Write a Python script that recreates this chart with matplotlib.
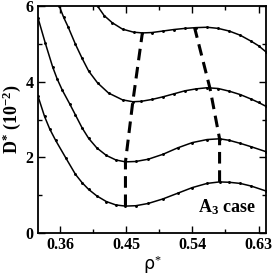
import matplotlib
matplotlib.use('Agg')
import matplotlib.pyplot as plt
from matplotlib.ticker import MultipleLocator

plt.rcParams['mathtext.fontset'] = 'custom'
plt.rcParams['mathtext.rm'] = 'Liberation Serif'
plt.rcParams['mathtext.it'] = 'Liberation Serif:italic'
plt.rcParams['mathtext.bf'] = 'Liberation Serif:bold'

# curves (rho*, D* in 1e-2)
x1 = [0.411, 0.42, 0.431, 0.445, 0.46, 0.472, 0.485, 0.50, 0.515, 0.53, 0.545, 0.56, 0.575, 0.59, 0.605, 0.62, 0.63, 0.64]
y1 = [6.00, 5.75, 5.56, 5.39, 5.31, 5.29, 5.30, 5.34, 5.38, 5.41, 5.43, 5.44, 5.41, 5.34, 5.23, 5.07, 4.95, 4.79]

x2 = [0.359, 0.365, 0.371, 0.381, 0.39, 0.399, 0.411, 0.426, 0.445, 0.459, 0.47, 0.485, 0.50, 0.515, 0.53, 0.545, 0.56, 0.575, 0.59, 0.605, 0.62, 0.63, 0.64]
y2 = [6.00, 5.70, 5.45, 4.99, 4.62, 4.28, 3.97, 3.70, 3.52, 3.47, 3.48, 3.53, 3.60, 3.68, 3.76, 3.81, 3.84, 3.82, 3.75, 3.66, 3.54, 3.45, 3.35]

x3 = [0.33, 0.34, 0.35, 0.356, 0.363, 0.373, 0.381, 0.39, 0.399, 0.41, 0.423, 0.436, 0.449, 0.463, 0.48, 0.50, 0.52, 0.54, 0.56, 0.577, 0.59, 0.605, 0.62, 0.64]
y3 = [5.69, 5.02, 4.39, 4.08, 3.78, 3.42, 3.12, 2.78, 2.50, 2.25, 2.05, 1.93, 1.88, 1.89, 1.95, 2.08, 2.25, 2.39, 2.47, 2.49, 2.45, 2.37, 2.28, 2.15]

x4 = [0.33, 0.339, 0.346, 0.354, 0.368, 0.381, 0.39, 0.399, 0.41, 0.423, 0.436, 0.449, 0.463, 0.48, 0.50, 0.52, 0.54, 0.56, 0.577, 0.59, 0.605, 0.62, 0.64]
y4 = [3.62, 3.08, 2.75, 2.45, 1.98, 1.55, 1.33, 1.15, 0.98, 0.83, 0.74, 0.71, 0.72, 0.78, 0.90, 1.05, 1.20, 1.31, 1.35, 1.34, 1.31, 1.24, 1.11]

# dashed lines joining minima and maxima
xmin_line = [0.449, 0.449, 0.459, 0.472]
ymin_line = [0.71, 1.88, 3.47, 5.29]
xmax_line = [0.577, 0.577, 0.564, 0.543]
ymax_line = [1.35, 2.49, 3.82, 5.43]

fig = plt.figure(figsize=(2.73, 2.76), dpi=100)
ax = fig.add_axes([0.139, 0.156, 0.835, 0.822])

for xs, ys in [(x1, y1), (x2, y2), (x3, y3), (x4, y4)]:
    ax.plot(xs, ys, color='black', lw=1.1, zorder=3)
    ax.plot(xs, ys, 'o', color='black', ms=1.1, zorder=4)

ax.plot(xmin_line, ymin_line, color='black', lw=2.2, dashes=(3.8, 2.2), zorder=2)
ax.plot(xmax_line, ymax_line, color='black', lw=2.2, dashes=(3.8, 2.2), zorder=2)

ax.set_xlim(0.33, 0.64)
ax.set_ylim(0, 6)
ax.set_xticks([0.36, 0.45, 0.54, 0.63])
ax.set_yticks([0, 2, 4, 6])
ax.xaxis.set_minor_locator(MultipleLocator(0.045))
ax.yaxis.set_minor_locator(MultipleLocator(1))
ax.tick_params(which='both', direction='in', top=True, right=True, width=1.0)
ax.tick_params(which='major', length=5, pad=3)
ax.tick_params(which='minor', length=3)
for s in ax.spines.values():
    s.set_linewidth(1.3)

serif = ['Liberation Serif', 'DejaVu Serif']
for lab in ax.get_xticklabels() + ax.get_yticklabels():
    lab.set_family(serif)
    lab.set_fontweight('bold')
    lab.set_fontsize(11.5)

ax.set_ylabel(r'$\mathbf{D}^{\mathbf{*}}$ (10$^{\mathbf{-2}}$)', family=serif, fontweight='bold',
              fontsize=13, labelpad=2)
ax.set_xlabel('ρ$^{*}$', family='DejaVu Sans', fontsize=12.5, labelpad=1)
ax.text(0.955, 0.07, r'A$_{\mathbf{3}}$ case', transform=ax.transAxes, ha='right', va='bottom',
        family=serif, fontweight='bold', fontsize=13)

fig.savefig('out.png', dpi=100)
